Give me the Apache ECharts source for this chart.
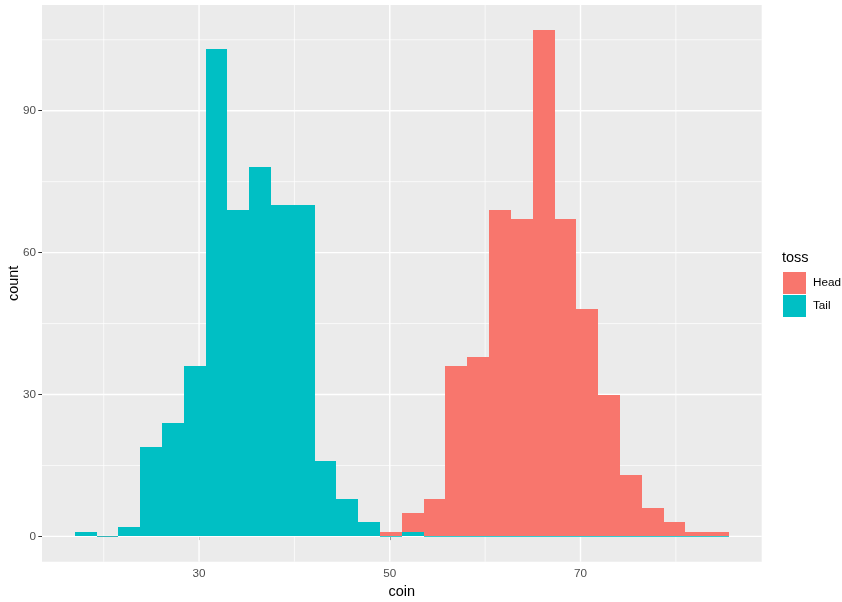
<!DOCTYPE html>
<html>
<head>
<meta charset="utf-8">
<script src="https://cdn.jsdelivr.net/npm/echarts@6/dist/echarts.min.js"></script>
<style>
html,body{margin:0;padding:0;background:#fff;}
#chart{width:842px;height:602px;}
</style>
</head>
<body>
<div id="chart"></div>
<script>
// ---- data ----
const binStart = 16.96;     // left edge of first bin (coin)
const binWidth = 2.287;     // bin width (coin)
const tailCounts = [1,0,2,19,24,36,103,69,78,70,70,16,8,3,0,1,0,0,0,0,0,0,0,0,0,0,0,0,0,0];
const headCounts = [0,0,0,0,0,0,0,0,0,0,0,0,0,0,1,4,8,36,38,69,67,107,67,48,30,13,6,3,1,1];
const xTickValues = [30,50,70];
const xMinorValues = [20,40,60,80];
const yTickValues = [0,30,60,90];
const yMinorValues = [15,45,75,105];
const seriesNames = ['Head','Tail'];

// ---- build ----
const headColor = '#F8766D', tailColor = '#00BFC4';
const nBins = tailCounts.length;
const lo0 = binStart, hi0 = binStart + nBins * binWidth;
const xPad = (hi0 - lo0) * 0.05;
const xMin = lo0 - xPad, xMax = hi0 + xPad;
let yTop = 0;
for (let i = 0; i < nBins; i++) yTop = Math.max(yTop, tailCounts[i] + headCounts[i]);
const yPad = yTop * 0.05;
const yMin = -yPad, yMax = yTop + yPad;

const tailData = tailCounts.map((c,i)=>[binStart+i*binWidth, binStart+(i+1)*binWidth, 0, c]);
const headData = headCounts.map((c,i)=>[binStart+i*binWidth, binStart+(i+1)*binWidth, tailCounts[i], c]);

const gridData = [];
xMinorValues.forEach(v=>gridData.push([v,0,0]));
yMinorValues.forEach(v=>gridData.push([v,1,0]));
xTickValues.forEach(v=>gridData.push([v,0,1]));
yTickValues.forEach(v=>gridData.push([v,1,1]));

function makeBarRenderer(color){
  return function(params, api){
    const lo = api.value(0), hi = api.value(1), base = api.value(2), c = api.value(3);
    const a = api.coord([lo, base]);
    const b = api.coord([hi, base + c]);
    const x0 = Math.round(a[0]), x1 = Math.round(b[0]);
    if (c === 0) {
      if (base !== 0) return null;
      return {type:'rect', z2:10, shape:{x:x0, y:a[1]-0.4, width:x1-x0, height:0.8},
              style:{fill:color}};
    }
    const y0 = Math.round(a[1]), y1 = Math.round(b[1]);
    return {type:'rect', shape:{x:x0, y:y1, width:x1-x0, height:y0-y1},
            style:{fill:color}};
  };
}

function renderGrid(params, api){
  const cs = params.coordSys;
  const v = api.value(0), kind = api.value(1), major = api.value(2);
  const w = major ? 1.4 : 0.7;
  if (kind === 0) {
    const p = api.coord([v, yMin]);
    return {type:'line', shape:{x1:p[0], y1:cs.y, x2:p[0], y2:cs.y+cs.height},
            style:{stroke:'#FFFFFF', lineWidth:w}};
  } else {
    const p = api.coord([xMin, v]);
    return {type:'line', shape:{x1:cs.x, y1:p[1], x2:cs.x+cs.width, y2:p[1]},
            style:{stroke:'#FFFFFF', lineWidth:w}};
  }
}

const font = '"Liberation Sans", Arial, sans-serif';
const chart = echarts.init(document.getElementById('chart'), null, {renderer:'canvas'});
chart.setOption({
  backgroundColor:'#FFFFFF',
  animation:false,
  title:{text:'toss', left:782, top:250, padding:0,
         textStyle:{fontFamily:font, fontSize:14.5, fontWeight:'normal', color:'#000'}},
  legend:{data:seriesNames, orient:'vertical', left:783, top:272, padding:0, itemWidth:23, itemHeight:22,
          itemGap:1, icon:'rect', textStyle:{fontFamily:font, fontSize:11.7, color:'#000', padding:[0,0,0,2]}},
  grid:{left:42, right:80.3, top:5, bottom:40.3, show:true, backgroundColor:'#EBEBEB', borderWidth:0,
        containLabel:false, outerBoundsMode:'none'},
  xAxis:{type:'value', min:xMin, max:xMax, name:'coin', nameLocation:'middle', nameGap:23,
         nameMoveOverlap:false,
         nameTextStyle:{fontFamily:font, fontSize:14.5, color:'#000'},
         axisLine:{show:false}, splitLine:{show:false},
         axisTick:{show:true, length:3.7, customValues:xTickValues, lineStyle:{color:'#333333', width:1}},
         axisLabel:{customValues:xTickValues, margin:6, fontFamily:font, fontSize:11.7, color:'#4D4D4D'}},
  yAxis:{type:'value', min:yMin, max:yMax, name:'count', nameLocation:'middle', nameGap:21,
         nameMoveOverlap:false,
         nameTextStyle:{fontFamily:font, fontSize:14.5, color:'#000'},
         axisLine:{show:false}, splitLine:{show:false},
         axisTick:{show:true, length:3.7, customValues:yTickValues, lineStyle:{color:'#333333', width:1}},
         axisLabel:{customValues:yTickValues, margin:6, fontFamily:font, fontSize:11.7, color:'#4D4D4D'}},
  series:[
    {type:'custom', name:'gridlines', silent:true, z:1, renderItem:renderGrid, data:gridData,
     encode:{x:0, y:0}, clip:false},
    {type:'custom', name:'Head', z:2, renderItem:makeBarRenderer(headColor), data:headData,
     itemStyle:{color:headColor}, encode:{x:[0,1], y:[2,3]}},
    {type:'custom', name:'Tail', z:3, renderItem:makeBarRenderer(tailColor), data:tailData,
     itemStyle:{color:tailColor}, encode:{x:[0,1], y:[2,3]}}
  ]
});
</script>
</body>
</html>
